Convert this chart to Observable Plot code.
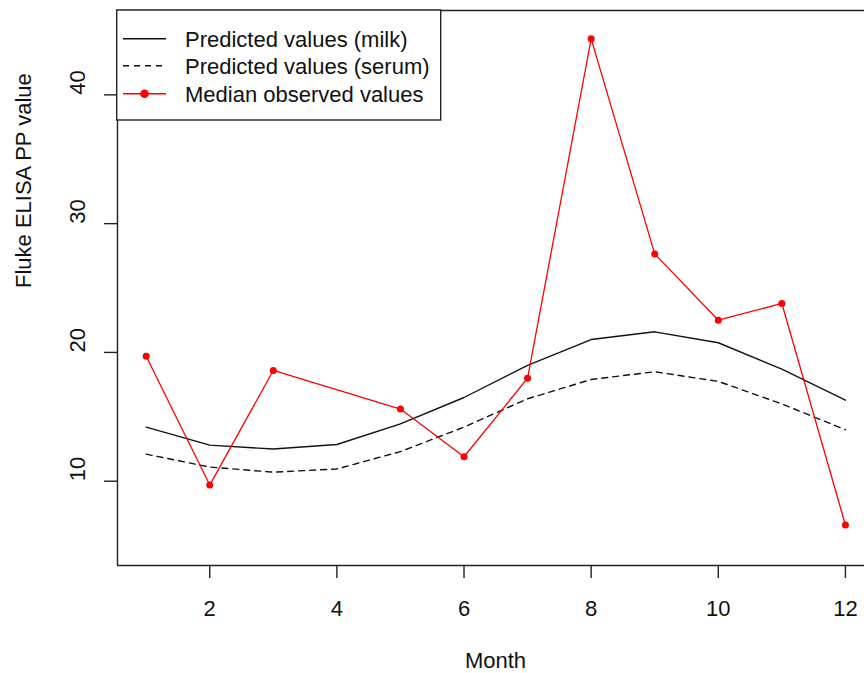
<!DOCTYPE html>
<html><head><meta charset="utf-8">
<script src="https://cdn.jsdelivr.net/npm/d3@7"></script>
<script src="https://cdn.jsdelivr.net/npm/@observablehq/plot@0.6"></script>
<style>body{margin:0;background:#fff} svg{display:block}</style>
</head><body><div id="chart"></div>
<script>
const months = [1, 2, 3, 4, 5, 6, 7, 8, 9, 10, 11, 12];
const milk = [14.2, 12.8, 12.5, 12.85, 14.45, 16.5, 19.0, 21.0, 21.6, 20.75, 18.7, 16.3];
const serum = [12.1, 11.1, 10.7, 10.95, 12.3, 14.2, 16.4, 17.9, 18.5, 17.75, 16.0, 14.0];
const obsMonths = [1, 2, 3, 5, 6, 7, 8, 9, 10, 11, 12];
const observed = [19.7, 9.7, 18.6, 15.6, 11.9, 18.0, 44.35, 27.65, 22.5, 23.8, 6.6];
const xTicks = [2, 4, 6, 8, 10, 12];
const yTicks = [10, 20, 30, 40];
const legendLabels = ["Predicted values (milk)", "Predicted values (serum)", "Median observed values"];
const xLabel = "Month";
const yLabel = "Fluke ELISA PP value";

const milkData = months.map((m, i) => ({m, v: milk[i]}));
const serumData = months.map((m, i) => ({m, v: serum[i]}));
const obsData = obsMonths.map((m, i) => ({m, v: observed[i]}));

const FONT = "Liberation Sans, Arial, sans-serif";
const AX = "#222";
const xDom = [0.549, 12.30];
const yDom = [3.455, 46.55];

const chart = Plot.plot({
  width: 864, height: 673,
  marginLeft: 117, marginRight: 0, marginTop: 10, marginBottom: 108,
  style: {fontFamily: FONT, background: "#fff", overflow: "visible"},
  x: {domain: xDom},
  y: {domain: yDom},
  marks: [
    Plot.ruleX([xDom[0]], {stroke: AX, strokeWidth: 1.4}),
    Plot.ruleY([yDom[0], yDom[1]], {stroke: AX, strokeWidth: 1.4}),
    Plot.axisX({ticks: xTicks, tickSize: 13, tickPadding: 22, fontSize: 22, label: null, stroke: AX, strokeWidth: 1.4, color: "#111"}),
    Plot.axisY({ticks: yTicks, tickSize: 13, tickFormat: () => "", label: null, stroke: AX, strokeWidth: 1.4}),
    Plot.text(yTicks, {y: d => d, text: d => String(d), frameAnchor: "left", dx: -40, rotate: -90, fontSize: 22, fill: "#111"}),
    Plot.text([yLabel], {frameAnchor: "left", dx: -94, rotate: -90, fontSize: 22, fill: "#111"}),
    Plot.text([xLabel], {frameAnchor: "bottom", dy: 102, dx: 4.5, fontSize: 22, fill: "#111"}),
    Plot.line(milkData, {x: "m", y: "v", stroke: "#111", strokeWidth: 1.4}),
    Plot.line(serumData, {x: "m", y: "v", stroke: "#111", strokeWidth: 1.4, strokeDasharray: "6 5"}),
    Plot.line(obsData, {x: "m", y: "v", stroke: "#ff0000", strokeWidth: 1.3}),
    Plot.dot(obsData, {x: "m", y: "v", r: 3.5, fill: "#ff0000", stroke: "none"})
  ]
});

// legend (top-left, inside plot box)
const svg = d3.select(chart);
const lg = svg.append("g").attr("font-family", FONT).attr("font-size", 22).attr("text-anchor", "start");
lg.append("rect").attr("x", 116.7).attr("y", 10).attr("width", 324).attr("height", 110)
  .attr("fill", "#fff").attr("stroke", AX).attr("stroke-width", 1.4);
const rowsY = [38.7, 65.8, 93.8];
const styles = [
  {stroke: "#111", dash: null, dot: false},
  {stroke: "#111", dash: "6 5", dot: false},
  {stroke: "#ff0000", dash: null, dot: true}
];
legendLabels.forEach((t, i) => {
  const y = rowsY[i], s = styles[i];
  const ln = lg.append("line").attr("x1", 123).attr("x2", 166).attr("y1", y).attr("y2", y)
    .attr("stroke", s.stroke).attr("stroke-width", 1.4);
  if (s.dash) ln.attr("stroke-dasharray", s.dash);
  if (s.dot) lg.append("circle").attr("cx", 144.5).attr("cy", y).attr("r", 4.3).attr("fill", "#ff0000");
  lg.append("text").attr("x", 185).attr("y", y).attr("dy", "0.36em").attr("text-anchor", "start").attr("fill", "#111").text(t);
});

document.getElementById("chart").appendChild(chart);
</script>
</body></html>
